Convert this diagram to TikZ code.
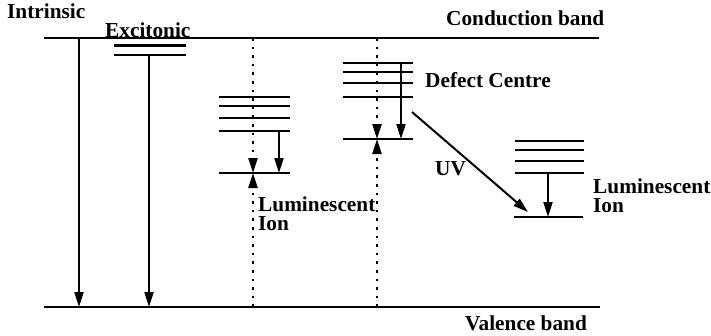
\documentclass[tikz,border=0pt]{standalone}
\usepackage{fontspec}
\setmainfont{Liberation Serif}
\usetikzlibrary{arrows.meta}
\begin{document}
\begin{tikzpicture}[x=1pt,y=-1pt,
  band/.style={line width=2.3pt},
  lvl/.style={line width=2.3pt},
  tr/.style={line width=2pt,-{Triangle[length=15pt,width=9pt]}},
  dotl/.style={line width=2.6pt,dash pattern=on 2.6pt off 6pt,-{Triangle[length=15pt,width=9pt]}},
  lbl/.style={font=\fontsize{21.3}{19}\selectfont\bfseries,inner sep=0pt,anchor=base west},
  lbl2/.style={font=\fontsize{21.3}{19}\selectfont\bfseries,inner sep=0pt,anchor=north west,align=left}]
\useasboundingbox (0,0) rectangle (711,335);
% bands
\coordinate (cbL) at (44,38); \coordinate (cbR) at (599,38);
\coordinate (vbL) at (44,307); \coordinate (vbR) at (600,307);
\draw[band] (cbL) -- (cbR);
\draw[band] (vbL) -- (vbR);
% labels
\node[lbl] (intr) at (7,18) {Intrinsic};
\node[lbl] (exci) at (105,37) {Excitonic};
\node[lbl] (cbt) at (446,25) {Conduction band};
\node[lbl] (vbt) at (465,330) {Valence band};
\node[lbl] (deft) at (425,87) {Defect Centre};
\node[lbl] (uvt) at (435,175) {UV};
\node[lbl2] (lumA) at (258,197) {Luminescent\\Ion};
\node[lbl2] (lumB) at (593,179) {Luminescent\\Ion};
% intrinsic
\coordinate (i1) at (79,38); \coordinate (i2) at (79,307);
\draw[tr] (i1) -- (i2);
% excitonic
\coordinate (e1L) at (114,45.5); \coordinate (e1R) at (186,45.5);
\coordinate (e2L) at (114,55); \coordinate (e2R) at (186,55);
\draw[lvl] (e1L) -- (e1R);
\draw[lvl] (e2L) -- (e2R);
\coordinate (ea) at (149,55); \coordinate (eb) at (149,307);
\draw[tr] (ea) -- (eb);
% luminescent ion 1
\foreach \y [count=\k] in {97,106,118,131}{
  \draw[lvl] (219,\y) coordinate (la\k L) -- (290,\y) coordinate (la\k R);}
\coordinate (lagL) at (219,173); \coordinate (lagR) at (290,173);
\draw[lvl] (lagL) -- (lagR);
\coordinate (ladT) at (253,38); \coordinate (ladG) at (253,173); \coordinate (ladB) at (253,307);
\draw[dotl] (ladT) -- (ladG);
\draw[dotl] (ladB) -- (ladG);
\coordinate (laa) at (279,131); \coordinate (lab) at (279,173);
\draw[tr] (laa) -- (lab);
% defect centre
\foreach \y [count=\k] in {63,72,83,97}{
  \draw[lvl] (343,\y) coordinate (d\k L) -- (413,\y) coordinate (d\k R);}
\coordinate (dgL) at (343,139); \coordinate (dgR) at (413,139);
\draw[lvl] (dgL) -- (dgR);
\coordinate (ddT) at (377,38); \coordinate (ddG) at (377,139); \coordinate (ddB) at (377,307);
\draw[dotl] (ddT) -- (ddG);
\draw[dotl] (ddB) -- (ddG);
\coordinate (da) at (401,63); \coordinate (db) at (401,139);
\draw[tr] (da) -- (db);
% UV transfer
\coordinate (uv1) at (412,112); \coordinate (uv2) at (528,212);
\draw[tr] (uv1) -- (uv2);
% luminescent ion 2
\foreach \y [count=\k] in {141,150,161,173}{
  \draw[lvl] (515,\y) coordinate (lb\k L) -- (584,\y) coordinate (lb\k R);}
\coordinate (lbgL) at (514,217); \coordinate (lbgR) at (583,217);
\draw[lvl] (lbgL) -- (lbgR);
\coordinate (lba) at (548,173); \coordinate (lbb) at (548,217);
\draw[tr] (lba) -- (lbb);
\end{tikzpicture}
\end{document}
